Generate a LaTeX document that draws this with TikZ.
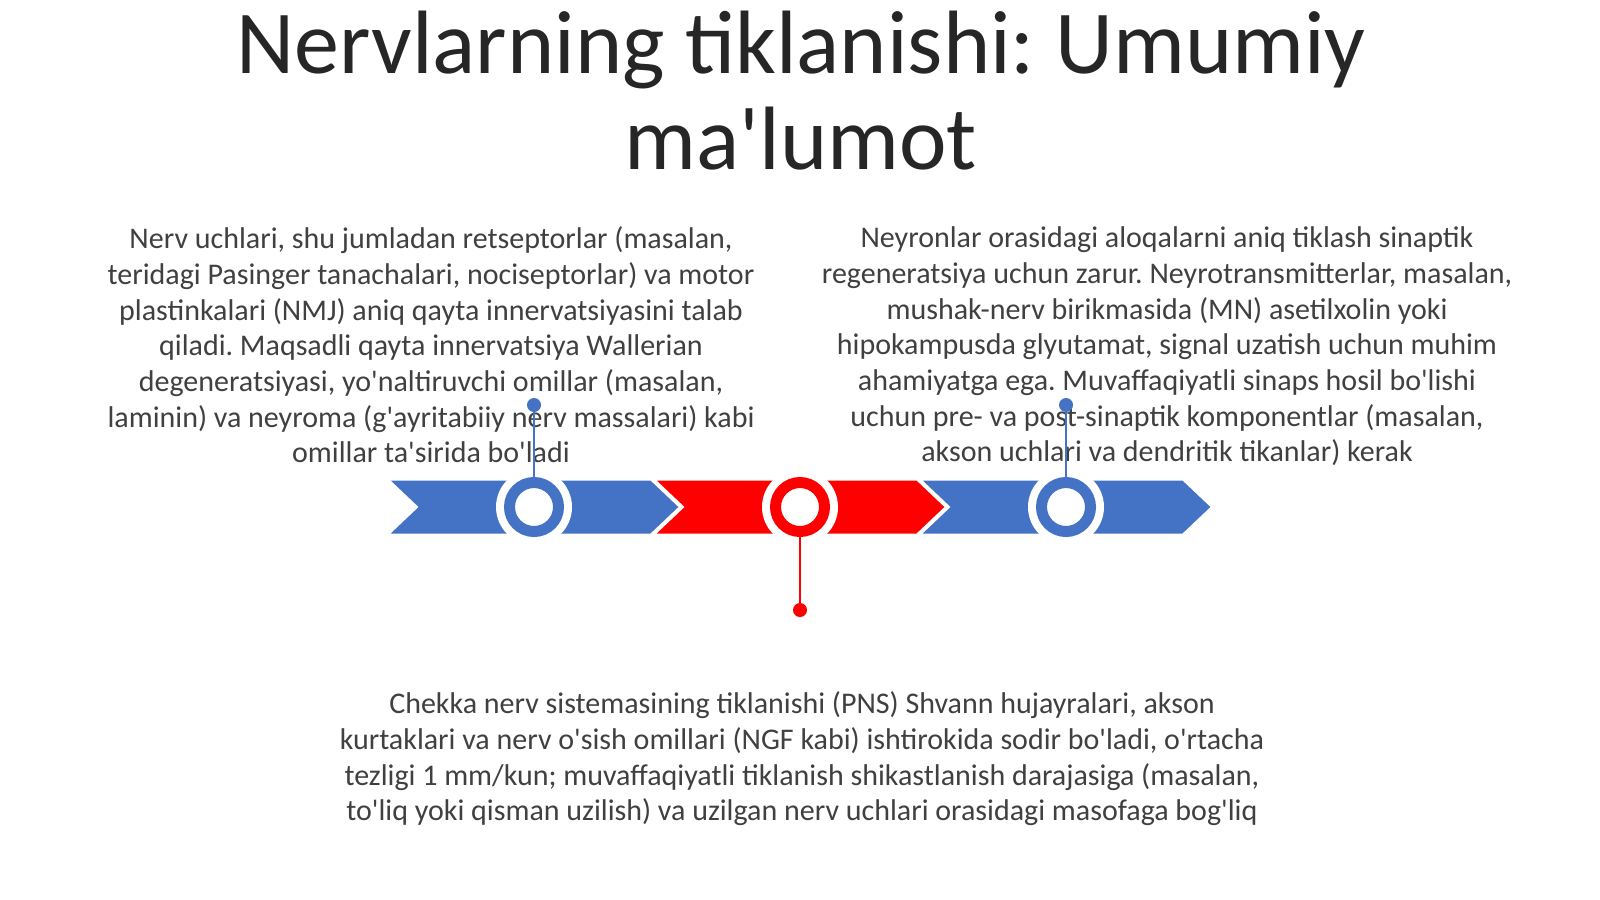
\documentclass[tikz,border=0pt]{standalone}
\usepackage{fontspec}
\newfontfamily\uzfont{Carlito}
\usetikzlibrary{calc}
\definecolor{chevblue}{HTML}{4472C4}
\definecolor{chevred}{HTML}{FF0000}
\definecolor{bodygray}{HTML}{404040}
\definecolor{titlegray}{HTML}{262626}
\def\chevron[#1](#2){\draw[#1] ($(#2)+(-146,-27.5)$) -- ++(263,0) -- ++(29,27.5) -- ++(-29,27.5) -- ++(-263,0) -- ++(29,-27.5) -- cycle;}
\frenchspacing

\begin{document}
\begin{tikzpicture}[x=1pt, y=-1pt,
    titletext/.style={align=center, text=titlegray, inner sep=0pt, font=\uzfont\fontsize{90}{96}\selectfont},
    bodytext/.style={align=center, text=bodygray, inner sep=0pt, font=\uzfont\fontsize{30}{35.7}\selectfont},
    ring/.style={circle, draw=#1, line width=11pt, fill=white, minimum size=49pt, inner sep=0pt},
    dot/.style={circle, fill=#1, minimum size=14pt, inner sep=0pt},
    stem/.style={draw=#1, line width=2pt}]
			%%%%% START %%%%%
			
			\fill[white] (0, 0) rectangle (1600, 899);
			\useasboundingbox (0, 0) rectangle (1600, 899);
			
			\node[titletext, anchor=base] (title) at (801, 169) {Nervlarning tiklanishi: Umumiy\\ma'lumot};
			
			\node[bodytext] (leftnote) at (431, 345) {Nerv uchlari, shu jumladan retseptorlar (masalan,\\teridagi Pasinger tanachalari, nociseptorlar) va motor\\plastinkalari (NMJ) aniq qayta innervatsiyasini talab\\qiladi. Maqsadli qayta innervatsiya Wallerian\\degeneratsiyasi, yo'naltiruvchi omillar (masalan,\\laminin) va neyroma (g'ayritabiiy nerv massalari) kabi\\omillar ta'sirida bo'ladi};
			\node[bodytext] (rightnote) at (1167, 346.5) {Neyronlar orasidagi aloqalarni aniq tiklash sinaptik\\regeneratsiya uchun zarur. Neyrotransmitterlar, masalan,\\mushak-nerv birikmasida (MN) asetilxolin yoki\\hipokampusda glyutamat, signal uzatish uchun muhim\\ahamiyatga ega. Muvaffaqiyatli sinaps hosil bo'lishi\\uchun pre- va post-sinaptik komponentlar (masalan,\\akson uchlari va dendritik tikanlar) kerak};
			\node[bodytext] (bottomnote) at (802, 759) {Chekka nerv sistemasining tiklanishi (PNS) Shvann hujayralari, akson\\kurtaklari va nerv o'sish omillari (NGF kabi) ishtirokida sodir bo'ladi, o'rtacha\\tezligi 1 mm/kun; muvaffaqiyatli tiklanish shikastlanish darajasiga (masalan,\\to'liq yoki qisman uzilish) va uzilgan nerv uchlari orasidagi masofaga bog'liq};
			
			\coordinate (p1) at (534, 507);
			\coordinate (p2) at (800, 507);
			\coordinate (p3) at (1066, 507);
			
			\chevron[fill=chevblue, draw=white, line width=2pt](p1);
			\chevron[fill=chevred, draw=white, line width=2pt](p2);
			\chevron[fill=chevblue, draw=white, line width=2pt](p3);
			
			\fill[white] (p1) circle (38);
			\fill[white] (p2) circle (38);
			\fill[white] (p3) circle (38);
			
			\node[ring=chevblue] (c1) at (p1) {};
			\node[ring=chevred] (c2) at (p2) {};
			\node[ring=chevblue] (c3) at (p3) {};
			
			\node[dot=chevblue] (d1) at (534, 405) {};
			\node[dot=chevred] (d2) at (800, 610) {};
			\node[dot=chevblue] (d3) at (1066, 405) {};
			
			\draw[stem=chevblue] (c1) -- (d1);
			\draw[stem=chevred] (c2) -- (d2);
			\draw[stem=chevblue] (c3) -- (d3);
			
			%%%%% END %%%%%
\end{tikzpicture}
\end{document}
